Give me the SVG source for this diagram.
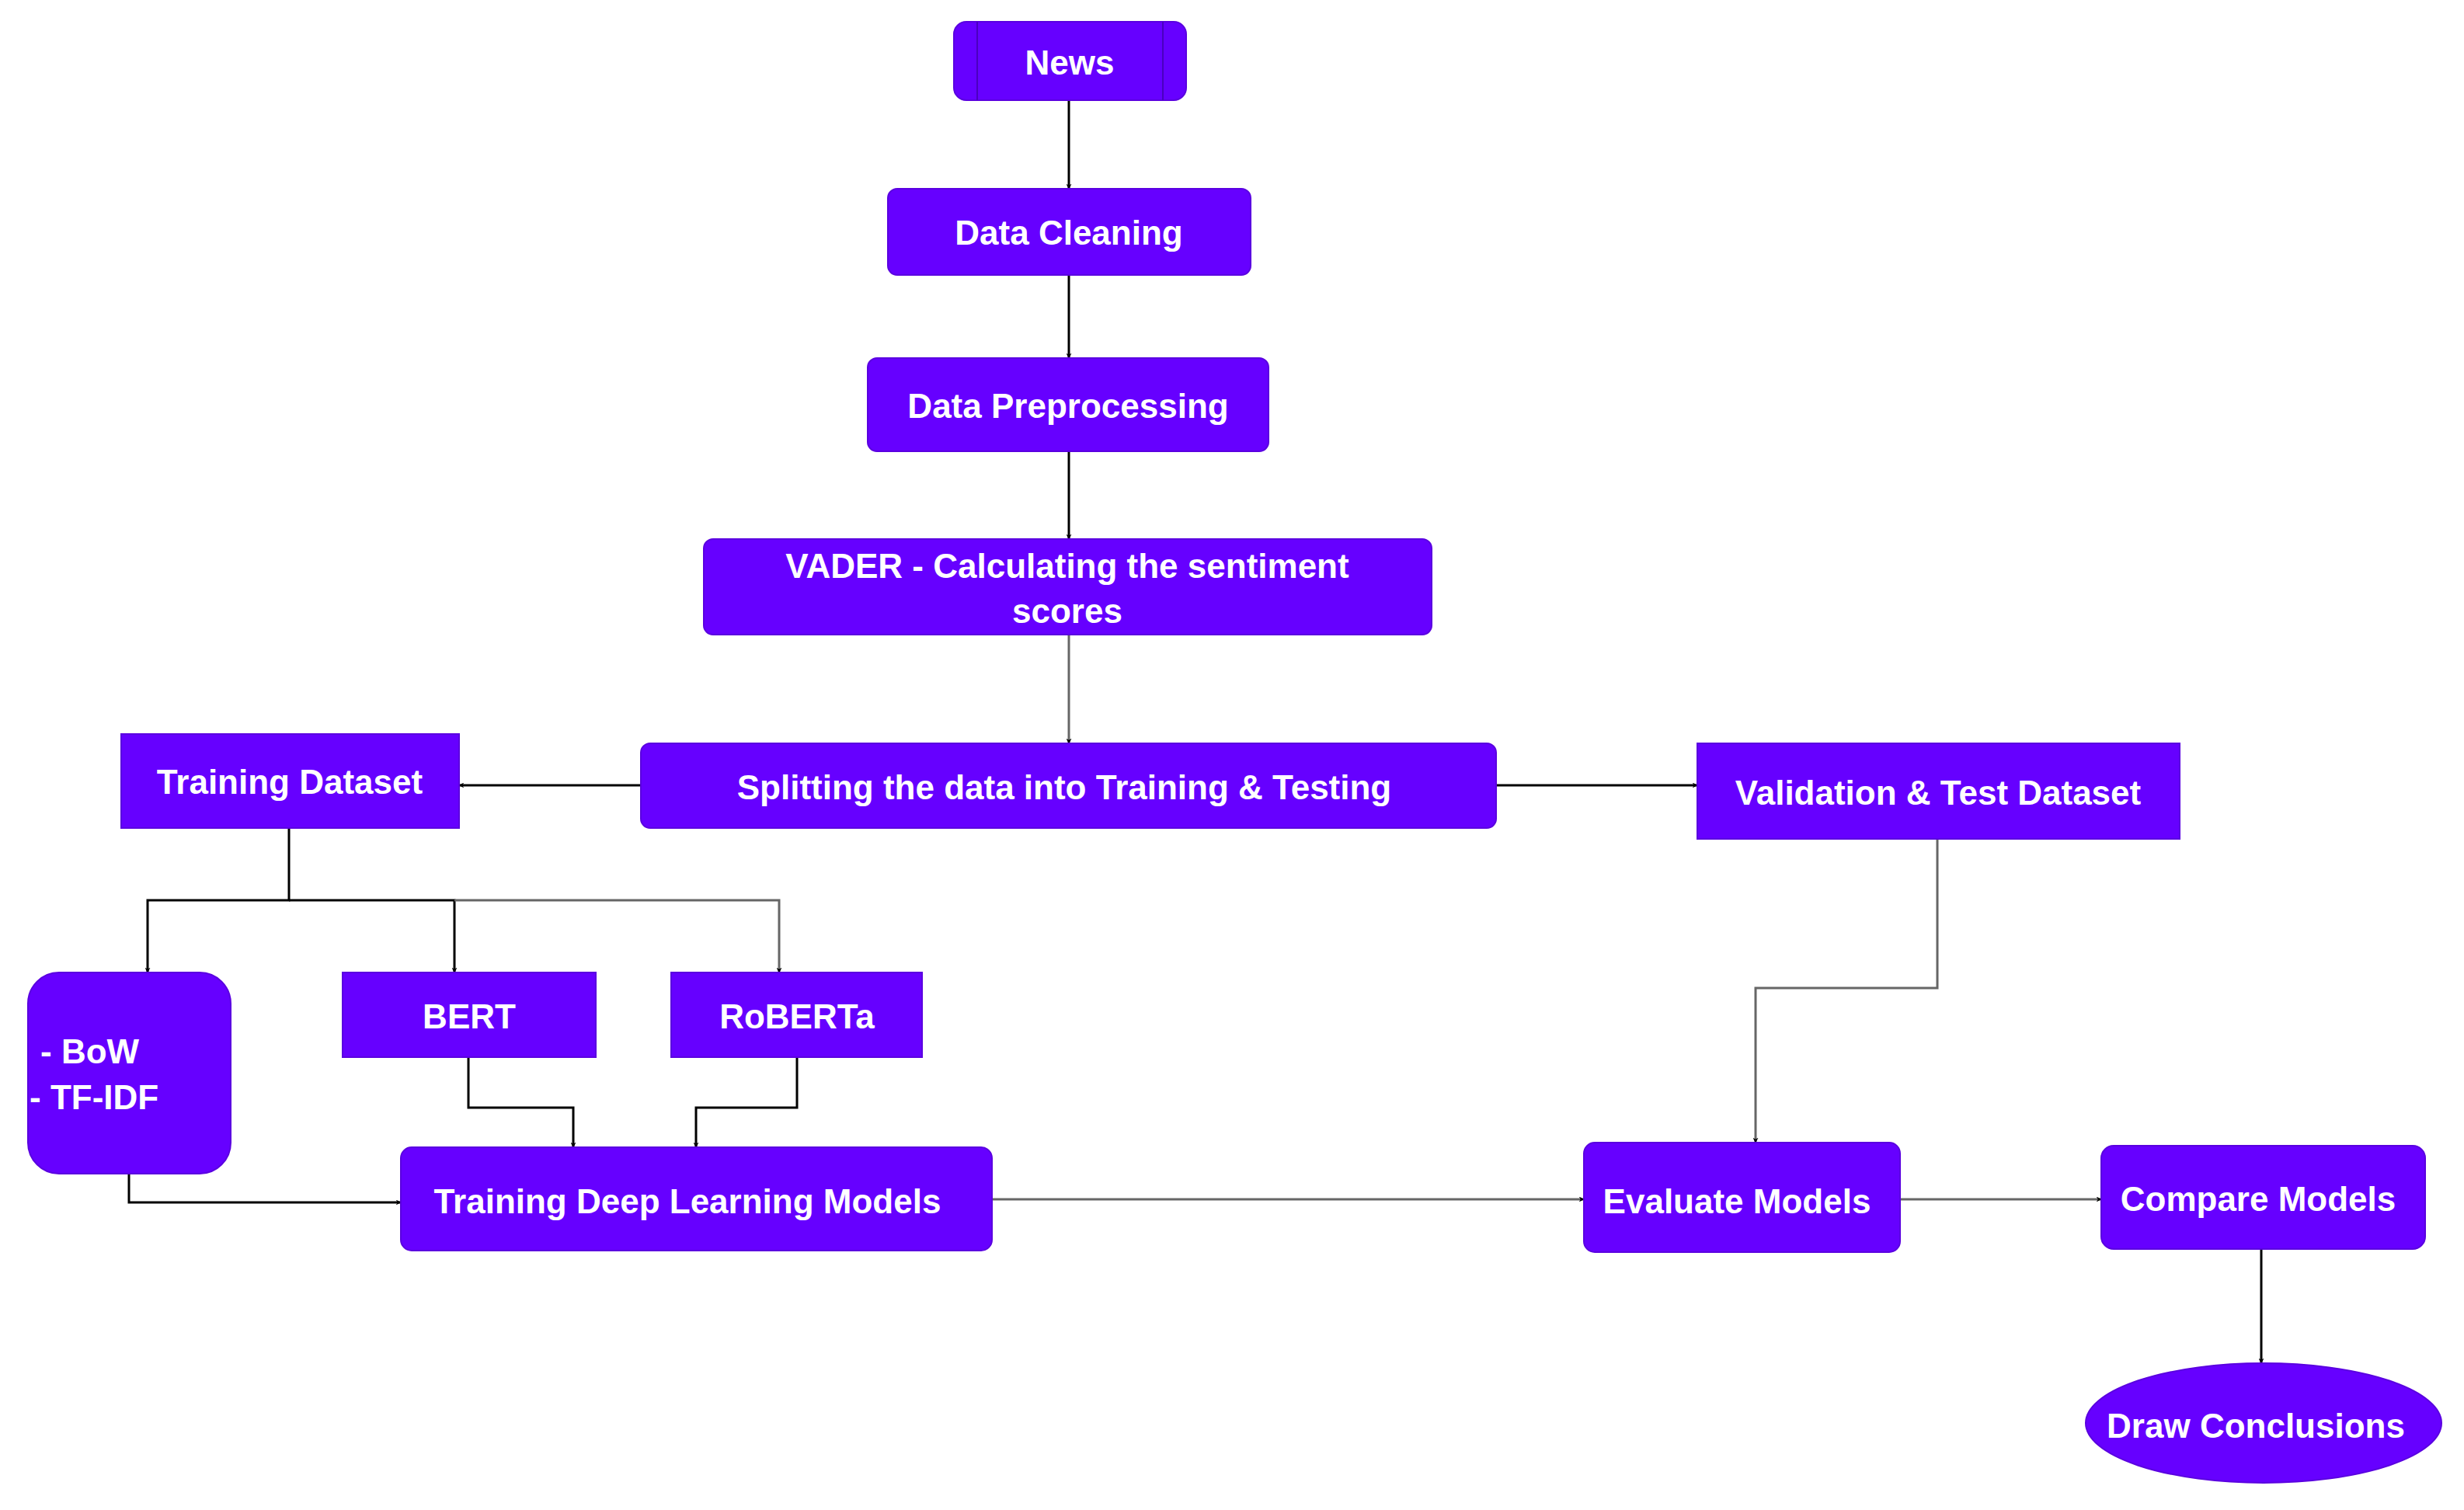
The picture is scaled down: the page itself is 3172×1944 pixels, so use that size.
<svg xmlns="http://www.w3.org/2000/svg" width="3172" height="1944" viewBox="0 0 3172 1944">
<defs>
<marker id="ar" viewBox="0 0 10 10" refX="9" refY="5" markerWidth="7" markerHeight="7" markerUnits="userSpaceOnUse" orient="auto"><path d="M0,0 L10,5 L0,10 L3,5 Z" fill="#000"/></marker>
<style>
.n{fill:#6600ff;stroke:#5a00e0;stroke-width:2}
.t{fill:#fff;font-family:"Liberation Sans",Arial,sans-serif;font-weight:bold;font-size:44px;text-anchor:middle;dominant-baseline:central}
.c{fill:none;stroke:#000;stroke-width:3;marker-end:url(#ar)}
.g{stroke:#666}
</style>
</defs>
<rect width="3172" height="1944" fill="#fff"/>
<g id="connectors">
<path class="c" d="M1376,129 V243"/>
<path class="c" d="M1376,354 V461"/>
<path class="c" d="M1376,581 V694"/>
<path class="c g" d="M1376,817 V957"/>
<path class="c" d="M825,1011 H591"/>
<path class="c" d="M1926,1011 H2185"/>
<path class="c" d="M372,1066 V1159 H190 V1252"/>
<path class="c" d="M372,1159 H585 V1252"/>
<path class="c g" d="M585,1159 H1003 V1252"/>
<path class="c" d="M603,1361 V1426 H738 V1477"/>
<path class="c" d="M1026,1361 V1426 H896 V1477"/>
<path class="c" d="M166,1511 V1548 H516"/>
<path class="c g" d="M1277,1544 H2039"/>
<path class="c g" d="M2494,1080 V1272 H2260 V1471"/>
<path class="c g" d="M2446,1544 H2705"/>
<path class="c" d="M2911,1608 V1755"/>
</g>
<g id="news"><rect class="n" x="1228" y="28" width="299" height="101" rx="16"/><path d="M1258,28 V129 M1497,28 V129" stroke="#4a00c0" stroke-width="2"/><text class="t" x="1377" y="80">News</text></g>
<g id="cleaning"><rect class="n" x="1143" y="243" width="467" height="111" rx="12"/><text class="t" x="1376" y="299">Data Cleaning</text></g>
<g id="preprocessing"><rect class="n" x="1117" y="461" width="516" height="120" rx="12"/><text class="t" x="1375" y="522">Data Preprocessing</text></g>
<g id="vader"><rect class="n" x="906" y="694" width="937" height="123" rx="12"/><text class="t" x="1374" y="728">VADER - Calculating the sentiment</text><text class="t" x="1374" y="786">scores</text></g>
<g id="splitting"><rect class="n" x="825" y="957" width="1101" height="109" rx="12"/><text class="t" x="1370" y="1013">Splitting the data into Training &amp; Testing</text></g>
<g id="trainingds"><rect class="n" x="156" y="945" width="435" height="121"/><text class="t" x="373" y="1006">Training Dataset</text></g>
<g id="validation"><rect class="n" x="2185" y="957" width="621" height="123"/><text class="t" x="2495" y="1020">Validation &amp; Test Dataset</text></g>
<g id="bow"><rect class="n" x="36" y="1252" width="261" height="259" rx="40"/><text class="t" style="text-anchor:start" x="52" y="1353">- BoW</text><text class="t" style="text-anchor:start" x="38" y="1412">- TF-IDF</text></g>
<g id="bert"><rect class="n" x="441" y="1252" width="326" height="109"/><text class="t" x="604" y="1308">BERT</text></g>
<g id="roberta"><rect class="n" x="864" y="1252" width="323" height="109"/><text class="t" x="1026" y="1308">RoBERTa</text></g>
<g id="training"><rect class="n" x="516" y="1477" width="761" height="133" rx="14"/><text class="t" x="885" y="1546">Training Deep Learning Models</text></g>
<g id="evaluate"><rect class="n" x="2039" y="1471" width="407" height="141" rx="14"/><text class="t" x="2236" y="1546">Evaluate Models</text></g>
<g id="compare"><rect class="n" x="2705" y="1475" width="417" height="133" rx="16"/><text class="t" x="2907" y="1543">Compare Models</text></g>
<g id="conclusions"><ellipse class="n" cx="2914" cy="1832" rx="229" ry="77"/><text class="t" x="2904" y="1835">Draw Conclusions</text></g>
</svg>
